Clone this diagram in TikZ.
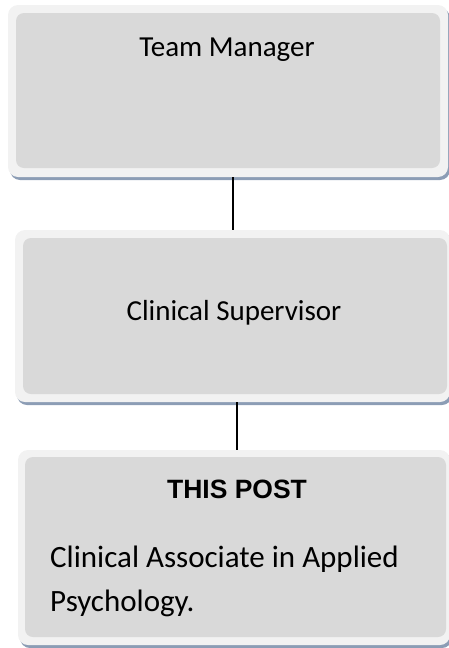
\documentclass[tikz,border=0pt]{standalone}
\usepackage{fontspec}
\setmainfont{Carlito}
\newfontfamily\headfont{Liberation Sans}
\usetikzlibrary{shadows}

\definecolor{boxfill}{HTML}{D9D9D9}
\definecolor{boxrim}{HTML}{F2F2F2}
\definecolor{boxshade}{HTML}{8C9DB5}

\tikzset{rimbox/.style = {rectangle, rounded corners=10pt, fill=boxrim, draw=none, inner sep=0pt,
		drop shadow={shadow xshift=2pt, shadow yshift=-3pt, fill=boxshade, opacity=1}},
	corebox/.style = {rectangle, rounded corners=8pt, fill=boxfill, draw=none, inner sep=0pt},
	posttext/.style = {font=\fontsize{29}{45}\selectfont, inner sep=0pt}}

\begin{document}
\begin{tikzpicture}[x=1pt,y=-1pt]
	\useasboundingbox (0,0) rectangle (449,648);

	\node[rimbox, minimum width=440pt, minimum height=172pt] (tm-rim) at (228,91) {};
	\node[corebox, minimum width=424pt, minimum height=155pt] (tm-core) at (228,90.5) {};
	\node[posttext, anchor=base] (tm-text) at (227,56) {Team Manager};

	\node[rimbox, minimum width=435pt, minimum height=172pt] (cs-rim) at (232.5,316) {};
	\node[corebox, minimum width=424pt, minimum height=156pt] (cs-core) at (235,316) {};
	\node[posttext, anchor=base] (cs-text) at (234,320) {Clinical Supervisor};

	\node[rimbox, minimum width=432pt, minimum height=195pt] (tp-rim) at (234,547.5) {};
	\node[corebox, minimum width=421pt, minimum height=180pt] (tp-core) at (235.5,547) {};
	\node[font=\headfont\bfseries\fontsize{26.5}{30}\selectfont, inner sep=0pt, anchor=base] (tp-head) at (237,498) {THIS POST};
	\node[posttext, font=\fontsize{31}{44}\selectfont, anchor=base west, align=left] (tp-text) at (50,611) {Clinical Associate in Applied\\Psychology.};

	\coordinate (link-a) at (233,0);
	\coordinate (link-b) at (237,0);
	\draw[line width=1.2pt] (link-a |- tm-rim.south) -- (link-a |- cs-rim.north);
	\draw[line width=1.2pt] (link-b |- cs-rim.south) -- (link-b |- tp-rim.north);

\end{tikzpicture}
\end{document}
